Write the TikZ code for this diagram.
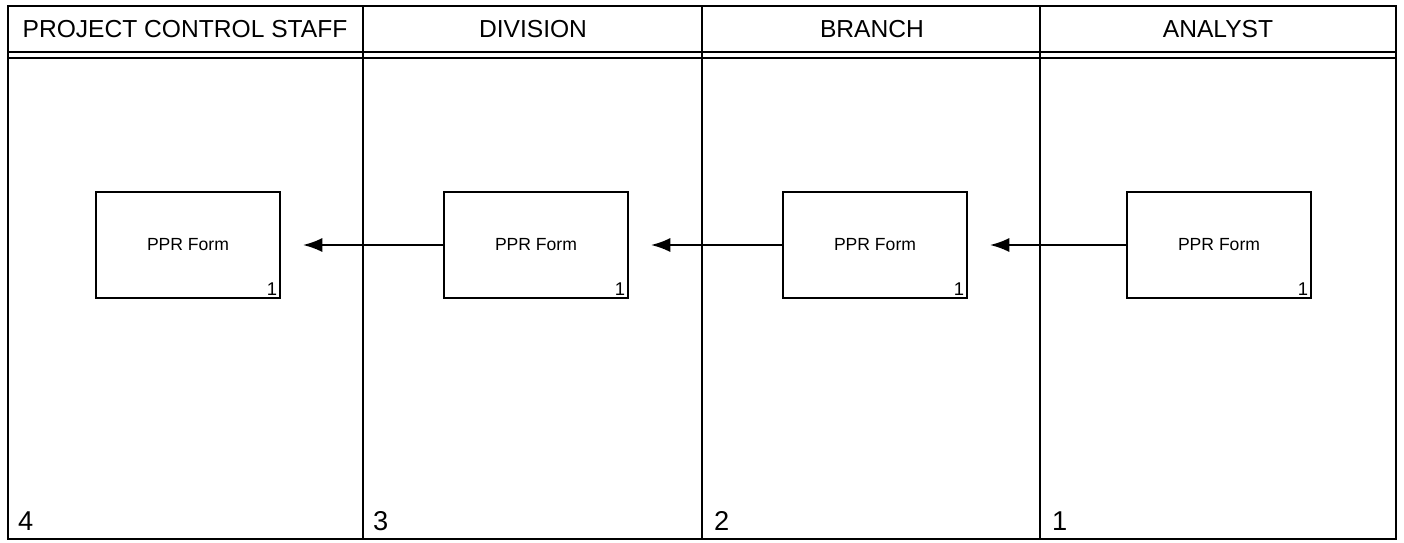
\documentclass[tikz,border=0pt]{standalone}
\usepackage{fontspec}
\setmainfont{Liberation Sans}
\usetikzlibrary{arrows.meta}

\tikzset{
    formbox/.style={draw, line width=1.1pt, minimum width=3.68cm, minimum height=2.12cm, font=\fontsize{10}{12}\selectfont},
    head/.style={font=\fontsize{14}{16}\selectfont},
    stepnum/.style={font=\fontsize{15.5}{18}\selectfont, anchor=base west},
    copynum/.style={font=\fontsize{10.5}{12}\selectfont, anchor=south east, inner sep=2pt},
    flow/.style={line width=1.1pt, -{Latex[length=11pt,width=8pt]}}
}

\begin{document}
\begin{tikzpicture}[x=0.02cm, y=-0.02cm]

    \useasboundingbox (0,0) rectangle (1404,542);

    % MARCO Y COLUMNAS
    \draw[line width=1.6pt] (8,6) rectangle (1396,539);
    \foreach \xd in {363, 702, 1040}
        \draw[line width=1.6pt] (\xd,6) -- (\xd,539);
    \draw[line width=0.8pt] (8,52) -- (1396,52);
    \draw[line width=0.8pt] (8,58) -- (1396,58);

    % CABECERAS
    \node[head] (hpcs) at (185,29) {PROJECT CONTROL STAFF};
    \node[head] (hdiv) at (533,29) {DIVISION};
    \node[head] (hbra) at (872,29) {BRANCH};
    \node[head] (hana) at (1218,29) {ANALYST};

    % FORMULARIOS
    \node[formbox] (fpcs) at (188,245) {PPR Form};
    \node[formbox] (fdiv) at (536,245) {PPR Form};
    \node[formbox] (fbra) at (875,245) {PPR Form};
    \node[formbox] (fana) at (1219,245) {PPR Form};
    \foreach \f in {fpcs, fdiv, fbra, fana}
        \node[copynum] (c\f) at (\f.south east) {1};

    % FLUJO
    \coordinate (tbra) at ([xshift=0.44cm]fbra.east);
    \coordinate (tdiv) at ([xshift=0.44cm]fdiv.east);
    \coordinate (tpcs) at ([xshift=0.44cm]fpcs.east);
    \draw[flow] (fana.west) -- (tbra);
    \draw[flow] (fbra.west) -- (tdiv);
    \draw[flow] (fdiv.west) -- (tpcs);

    % NUMEROS DE PASO
    \node[stepnum] (n4) at (12,530) {4};
    \node[stepnum] (n3) at (367,530) {3};
    \node[stepnum] (n2) at (708,530) {2};
    \node[stepnum] (n1) at (1046,530) {1};

\end{tikzpicture}
\end{document}
